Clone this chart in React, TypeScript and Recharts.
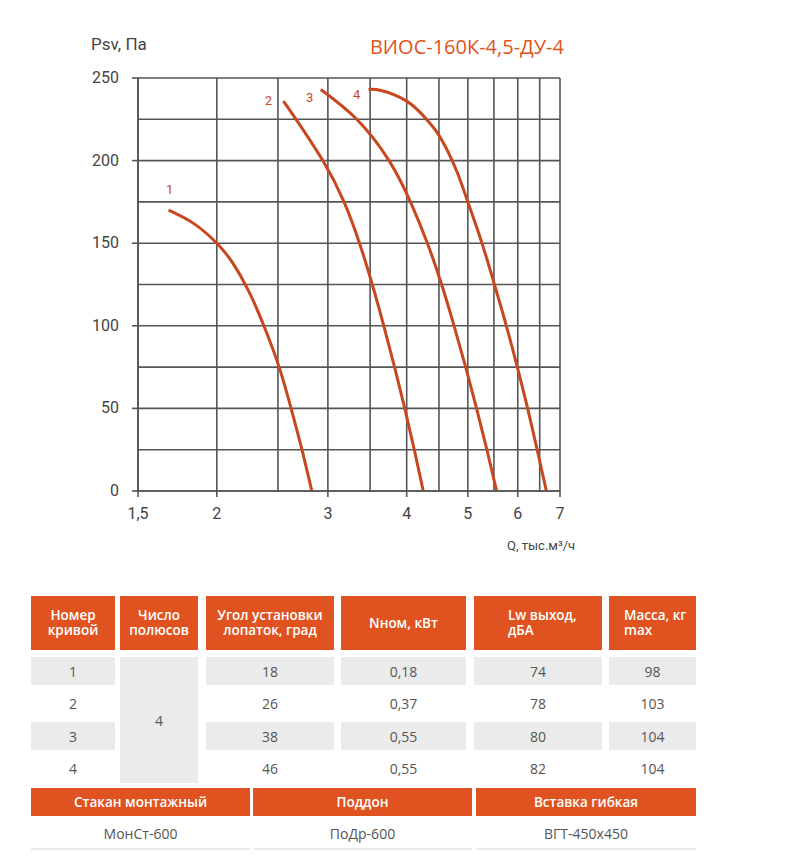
import * as React from "react"
import { CartesianGrid, LabelList, Line, LineChart, XAxis, YAxis } from "recharts"

// Q, тыс.м³/ч -> Psv, Па
const curve1 = [
	{ q: 1.677, p: 170 }, { q: 1.837, p: 162 }, { q: 2.0, p: 150 }, { q: 2.118, p: 138.2 },
	{ q: 2.242, p: 121.7 }, { q: 2.372, p: 100.5 }, { q: 2.511, p: 75 }, { q: 2.623, p: 50 },
	{ q: 2.729, p: 25 }, { q: 2.829, p: 0 },
]
const curve2 = [
	{ q: 2.55, p: 236 }, { q: 2.671, p: 225 }, { q: 2.945, p: 200 }, { q: 3.182, p: 175 },
	{ q: 3.367, p: 150 }, { q: 3.528, p: 125 }, { q: 3.679, p: 100 }, { q: 3.827, p: 75 },
	{ q: 3.972, p: 50 }, { q: 4.112, p: 25 }, { q: 4.249, p: 0 },
]
const curve3 = [
	{ q: 2.923, p: 243 }, { q: 3.333, p: 225 }, { q: 3.75, p: 200 }, { q: 4.055, p: 175 },
	{ q: 4.314, p: 150 }, { q: 4.544, p: 125 }, { q: 4.755, p: 100 }, { q: 4.961, p: 75 },
	{ q: 5.162, p: 50 }, { q: 5.36, p: 25 }, { q: 5.554, p: 0 },
]
const curve4 = [
	{ q: 3.48, p: 243 }, { q: 3.63, p: 242.6 }, { q: 4.0, p: 236 }, { q: 4.3, p: 225 },
	{ q: 4.468, p: 217.1 }, { q: 4.641, p: 206.1 }, { q: 4.82, p: 192 }, { q: 5.0, p: 175 },
	{ q: 5.265, p: 150 }, { q: 5.51, p: 125 }, { q: 5.755, p: 100 }, { q: 5.99, p: 75 },
	{ q: 6.22, p: 50 }, { q: 6.44, p: 25 }, { q: 6.66, p: 0 },
]

const xTicks = [1.5, 2, 3, 4, 5, 6, 7]
const xGrid = [1.5, 2, 2.5, 3, 3.5, 4, 4.5, 5, 5.5, 6, 6.5, 7]
const yTicks = [0, 50, 100, 150, 200, 250]
const yGrid = [0, 25, 50, 75, 100, 125, 150, 175, 200, 225, 250]

const curveNames = ["1", "2", "3", "4"]

const headers = ["Номер\nкривой", "Число\nполюсов", "Угол установки\nлопаток, град", "Nном, кВт", "Lw выход,\nдБА", "Масса, кг\nmax"]
const angles = ["18", "26", "38", "46"]
const powers = ["0,18", "0,37", "0,55", "0,55"]
const noise = ["74", "78", "80", "82"]
const mass = ["98", "103", "104", "104"]
const poles = "4"
const accHeaders = ["Стакан монтажный", "Поддон", "Вставка гибкая"]
const accValues = ["МонСт-600", "ПоДр-600", "ВГТ-450х450"]

const ORANGE = "#E05321"
const CURVE = "#C9471E"
const GRID = "#555"

// label offsets per curve, relative to the curve's first point
const labelOffsets = [
	{ dx: 1, dy: -16 },
	{ dx: -15, dy: 4 },
	{ dx: -11, dy: 12 },
	{ dx: -12, dy: 9 },
]

const makeLabel = (i: number) => (props: any) => {
	const { x, y, index } = props
	if (index !== 0) return null
	return (
		<text x={x + labelOffsets[i].dx} y={y + labelOffsets[i].dy} fill={CURVE} fontSize={13} textAnchor="middle" fontFamily="Roboto">
			{curveNames[i]}
		</text>
	)
}

const cols = [
	{ left: 31, width: 84, pad: 0 },
	{ left: 120, width: 78, pad: 0 },
	{ left: 206, width: 128, pad: 0 },
	{ left: 341, width: 125, pad: 0 },
	{ left: 474, width: 128, pad: 34 },
	{ left: 609, width: 87, pad: 15 },
]
const rowTops = [657, 689.5, 722, 754.5]
const ROW_H = 28

const cellText: React.CSSProperties = {
	position: "absolute",
	display: "flex",
	alignItems: "center",
	justifyContent: "center",
	fontFamily: "Open Sans",
	fontSize: 14,
	color: "#555",
}

const YTick = (props: any) => {
	const { x, y, payload } = props
	return (
		<text x={x - 11} y={y} dy={5} textAnchor="end" fill="#444" fontSize={16} fontFamily="Roboto">
			{payload.value}
		</text>
	)
}

const XTick = (props: any) => {
	const { x, y, payload } = props
	return (
		<text x={x} y={y} dy={20} textAnchor="middle" fill="#444" fontSize={16} fontFamily="Roboto">
			{String(payload.value).replace(".", ",")}
		</text>
	)
}

export default function App() {
	const curves = [curve1, curve2, curve3, curve4]
	return (
		<div style={{ position: "absolute", left: 0, top: 0, width: 807, height: 861, background: "#fff", overflow: "hidden" }}>
			<div style={{ position: "absolute", left: 91, top: 34, fontFamily: "Roboto", fontSize: 17, color: "#444" }}>Psv, Па</div>
			<div style={{ position: "absolute", right: 807 - 564, top: 33, fontFamily: "Open Sans", fontSize: 20, color: ORANGE }}>
				ВИОС-160К-4,5-ДУ-4
			</div>
			<div style={{ position: "absolute", left: 507, top: 538, fontFamily: "Roboto", fontSize: 13, color: "#444" }}>
				Q, тыс.м³/ч
			</div>
			<div style={{ position: "absolute", left: 0, top: 0 }}>
				<LineChart width={807} height={530} margin={{ top: 78, right: 247, bottom: 9, left: 88 }}>
					<CartesianGrid stroke={GRID} strokeWidth={1.6} verticalValues={xGrid} horizontalValues={yGrid} />
					<XAxis
						dataKey="q"
						type="number"
						scale="log"
						domain={[1.5, 7]}
						ticks={xTicks}
						allowDataOverflow
						height={30}
						stroke={GRID}
						strokeWidth={1.6}
						tickSize={6}
						tick={<XTick />}
					/>
					<YAxis
						dataKey="p"
						type="number"
						domain={[0, 250]}
						ticks={yTicks}
						width={50}
						stroke={GRID}
						strokeWidth={1.6}
						tickSize={6}
						tick={<YTick />}
					/>
					{curves.map((c, i) => (
						<Line
							key={i}
							data={c}
							dataKey="p"
							type="natural"
							stroke={CURVE}
							strokeWidth={3}
							dot={false}
							isAnimationActive={false}
						>
							<LabelList dataKey="p" content={makeLabel(i)} />
						</Line>
					))}
				</LineChart>
			</div>

			{/* table */}
			{headers.map((h, i) => (
				<div
					key={h}
					style={{
						...cellText,
						left: cols[i].left,
						top: 596,
						width: cols[i].width,
						height: 54,
						background: ORANGE,
						color: "#fff",
						fontWeight: 600,
						fontSize: 13.5,
						lineHeight: "15px",
						whiteSpace: "pre-line",
						textAlign: cols[i].pad ? "left" : "center",
						justifyContent: cols[i].pad ? "flex-start" : "center",
						paddingLeft: cols[i].pad,
						boxSizing: "border-box",
					}}
				>
					{h}
				</div>
			))}
			{rowTops.map((t, r) => {
				const bg = r % 2 === 0 ? "#ebebeb" : "transparent"
				const vals = [String(r + 1), null, angles[r], powers[r], noise[r], mass[r]]
				return vals.map((v, c) =>
					v === null ? null : (
						<div key={`${r}-${c}`} style={{ ...cellText, left: cols[c].left, top: t, width: cols[c].width, height: ROW_H, background: bg }}>
							{v}
						</div>
					),
				)
			})}
			<div style={{ ...cellText, left: cols[1].left, top: 657, width: cols[1].width, height: 126, background: "#ebebeb" }}>{poles}</div>

			{accHeaders.map((h, i) => (
				<div
					key={h}
					style={{
						...cellText,
						left: [31, 253, 476][i],
						top: 788,
						width: [219, 219, 220][i],
						height: 28,
						background: ORANGE,
						color: "#fff",
						fontWeight: 600,
						fontSize: 13.5,
					}}
				>
					{h}
				</div>
			))}
			{accValues.map((v, i) => (
				<div
					key={v}
					style={{
						...cellText,
						left: [31, 253, 476][i],
						top: 818,
						width: [219, 219, 220][i],
						height: 30,
						borderBottom: "2px solid #ebebeb",
					}}
				>
					{v}
				</div>
			))}
		</div>
	)
}
